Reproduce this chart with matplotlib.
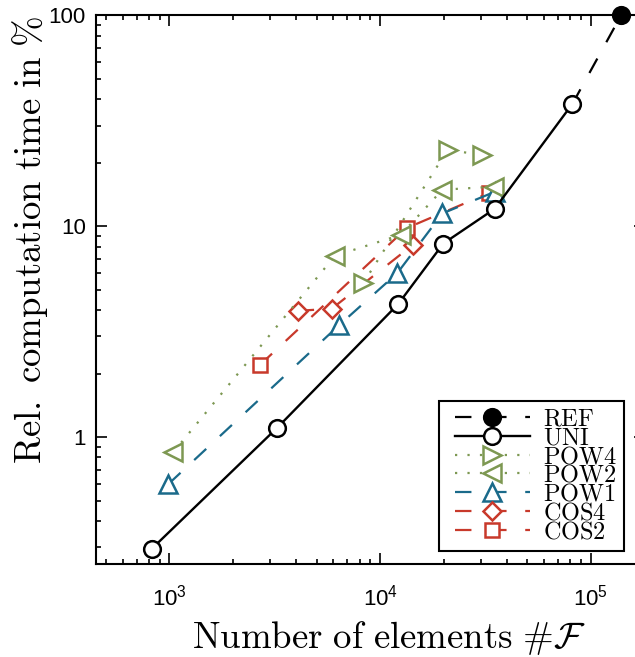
import matplotlib
matplotlib.use('Agg')
import matplotlib.pyplot as plt
from matplotlib.ticker import LogLocator, FixedLocator, FixedFormatter, NullFormatter
from matplotlib.legend_handler import HandlerLine2D

plt.rcParams['font.family'] = ['Liberation Sans', 'DejaVu Sans']
plt.rcParams['mathtext.fontset'] = 'cm'

# number of elements / relative computation time in %
ref_n = [81800, 139000]
ref_t = [38.1, 100.0]
uni_n = [825, 3253, 12200, 19950, 34980, 81800]
uni_t = [0.295, 1.108, 4.28, 8.28, 12.1, 38.1]
pow4_n = [8318, 20900, 30500]
pow4_t = [5.37, 23.0, 21.8]
pow2_n = [1044, 6109, 12530, 19750, 34800]
pow2_t = [0.847, 7.24, 9.1, 14.9, 15.4]
pow1_n = [991, 6405, 12066, 19750, 35200]
pow1_t = [0.599, 3.40, 5.99, 11.5, 14.6]
cos4_n = [4064, 5894, 14300]
cos4_t = [3.97, 4.06, 8.16]
cos2_n = [2694, 13370, 33000]
cos2_t = [2.20, 9.8, 14.4]

labels = ['REF', 'UNI', 'POW4', 'POW2', 'POW1', 'COS4', 'COS2']
yticks = [1, 10, 100]
ytick_labels = ['1', '10', '100']

GREEN = '#7d9852'
BLUE = '#1a6a8a'
RED = '#c8392b'
DASH = (0, (7.4, 8.4))
DOT = (0, (1, 4.6))

fig = plt.figure(figsize=(6.35, 6.57), dpi=100)
ax = fig.add_axes([96.2 / 635, 93 / 657, 548.5 / 635, 548.6 / 657])

mk = dict(mfc='white', mew=1.8, lw=1.6)
h = {}
h['COS2'], = ax.plot(cos2_n, cos2_t, ls=DASH, color=RED, marker='s', ms=10, **mk)
h['COS4'], = ax.plot(cos4_n, cos4_t, ls=DASH, color=RED, marker='D', ms=9.5, **mk)
h['POW1'], = ax.plot(pow1_n, pow1_t, ls=DASH, color=BLUE, marker='^', ms=13.5, **mk)
h['POW2'], = ax.plot(pow2_n, pow2_t, ls=DOT, color=GREEN, marker='<', ms=13.5, **mk)
h['POW4'], = ax.plot(pow4_n, pow4_t, ls=DOT, color=GREEN, marker='>', ms=13.5, **mk)
h['REF'], = ax.plot(ref_n, ref_t, ls=DASH, color='black', marker='o', ms=12,
                    markevery=[1], mfc='black', mew=1.8, lw=1.6, clip_on=False, zorder=3)
h['UNI'], = ax.plot(uni_n, uni_t, ls='-', color='black', marker='o', ms=12,
                    mfc='white', mew=1.8, lw=1.7, zorder=4)

ax.set_xscale('log')
ax.set_yscale('log')
ax.set_xlim(450, 1.8e5)
ax.set_ylim(0.25, 100)

ax.yaxis.set_major_locator(FixedLocator(yticks))
ax.yaxis.set_major_formatter(FixedFormatter(ytick_labels))
ax.yaxis.set_minor_locator(LogLocator(base=10, subs=range(2, 10)))
ax.yaxis.set_minor_formatter(NullFormatter())
ax.xaxis.set_minor_locator(LogLocator(base=10, subs=range(2, 10)))
ax.xaxis.set_minor_formatter(NullFormatter())

for s in ax.spines.values():
    s.set_linewidth(1.5)
ax.tick_params(which='both', direction='in', top=True, right=True, width=1.2)
ax.tick_params(which='major', length=8, labelsize=16)
ax.tick_params(which='minor', length=3.8)
ax.tick_params(axis='x', which='major', pad=15)
ax.tick_params(axis='y', which='major', pad=7.5)

fig.text(389 / 635, (657 - 648) / 657, r'$\mathrm{Number\ of\ elements}\ \#\mathcal{F}$',
         fontsize=26.5, ha='center', va='baseline')
fig.text(30 / 635, (657 - 239.5) / 657, r'$\mathrm{Rel.\ computation\ time\ in\ \%}$',
         fontsize=26.5, ha='center', va='center', rotation=90)

hl = HandlerLine2D(xpad=0.36)
leg = ax.legend([h[k] for k in labels], [r'$\mathrm{%s}\ $' % k for k in labels],
                loc='lower left', bbox_to_anchor=(0.625, 0.024), borderaxespad=0,
                fontsize=17.5, labelspacing=-0.13, handlelength=3.44, handletextpad=0.53,
                borderpad=0.3, fancybox=False, framealpha=1, edgecolor='black',
                handler_map={h[k]: hl for k in labels})
leg.get_frame().set_linewidth(1.5)

fig.savefig('out.png', dpi=100)
